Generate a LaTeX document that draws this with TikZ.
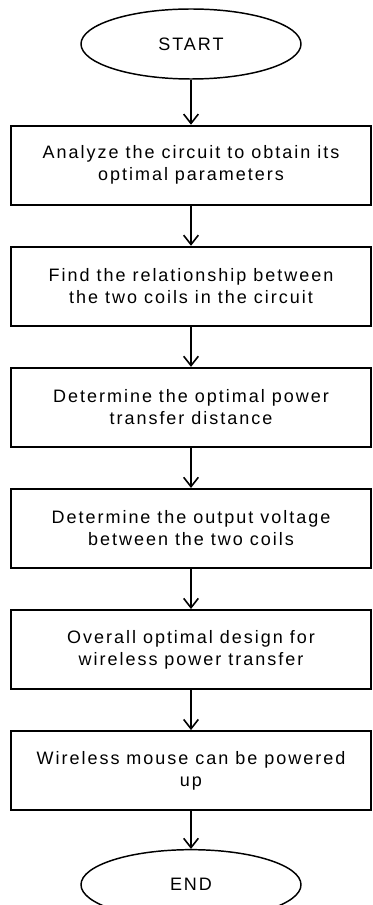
\documentclass[tikz,border=0pt]{standalone}
\usepackage{fontspec}
\setmainfont[LetterSpace=11]{Liberation Sans}
\usetikzlibrary{shapes.geometric, arrows.meta, positioning}
\tikzstyle{startstop} = [
    ellipse,
    minimum width=165pt,
    minimum height=52.5pt,
    inner sep=0pt,
    draw=black,
    line width=1.1pt
]
\tikzstyle{process} = [
    rectangle,
    minimum width=270pt,
    minimum height=59.25pt,
    align=center,
    draw=black,
    line width=1.4pt
]
\tikzstyle{arrow} = [line width=1.2pt,-{Straight Barb[length=7pt,width=11pt]}]

\begin{document}
\begin{tikzpicture}[node distance=30.15pt, font=\fontsize{13.5}{16.5}\selectfont]

\useasboundingbox (-143.25pt,33pt) rectangle (135.75pt,-645.75pt);

\node (start) [startstop] {START};

\node (analyze) [process, below=33.75pt of start]
{Analyze the circuit to obtain its\\optimal parameters};

\node (relation) [process, below=of analyze]
{Find the relationship between\\the two coils in the circuit};

\node (distance) [process, below=of relation]
{Determine the optimal power\\transfer distance};

\node (voltage) [process, below=of distance]
{Determine the output voltage\\between the two coils};

\node (design) [process, below=of voltage]
{Overall optimal design for\\wireless power transfer};

\node (mouse) [process, below=of design]
{Wireless mouse can be powered\\up};

\node (stop) [startstop, below=28.5pt of mouse]
{END};

\draw [arrow] (start) -- (analyze);
\draw [arrow] (analyze) -- (relation);
\draw [arrow] (relation) -- (distance);
\draw [arrow] (distance) -- (voltage);
\draw [arrow] (voltage) -- (design);
\draw [arrow] (design) -- (mouse);
\draw [arrow] (mouse) -- (stop);

\end{tikzpicture}
\end{document}
